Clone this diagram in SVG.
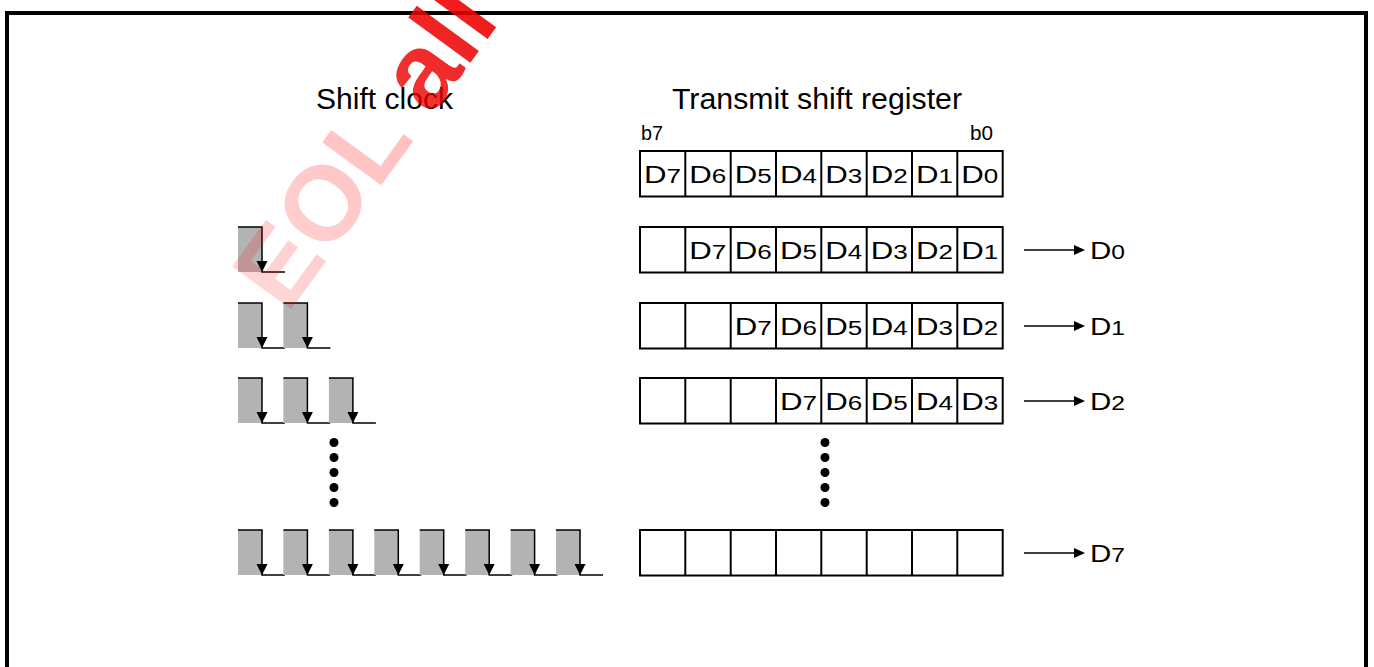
<svg xmlns="http://www.w3.org/2000/svg" width="1374" height="667" viewBox="0 0 1374 667">
<defs>
<style>
text{font-family:"Liberation Sans",Arial,sans-serif;fill:#000}
.title{font-size:29px}
.bit{font-size:21px}
.cell{font-size:24px}
.sub{font-size:20px}
.out{font-size:24px}
.frame{fill:none;stroke:#000;stroke-width:4}
.reg{fill:#fff;stroke:#000;stroke-width:2}
.div{stroke:#000;stroke-width:2}
.hi{fill:#b3b3b3}
.wave{fill:none;stroke:#000;stroke-width:1.5}
.ah{fill:#000}
.conn{stroke:#000;stroke-width:1.5}
.dot{fill:#000}
.wm{font-size:106px;font-weight:bold;fill:url(#wmg)}
</style>
<linearGradient id="wmg" x1="0" y1="0" x2="1" y2="0">
<stop offset="0" stop-color="#ff0000" stop-opacity="0.16"/>
<stop offset="0.6" stop-color="#ff0000" stop-opacity="0.25"/>
<stop offset="0.7" stop-color="#ee0000" stop-opacity="0.8"/>
<stop offset="1" stop-color="#ee0000" stop-opacity="0.9"/>
</linearGradient>
<g id="pulse">
<rect class="hi" x="0" y="0" width="24" height="45"/>
<path class="wave" d="M0 0H24V45H47"/>
<polygon class="ah" points="18.5,34 29.5,34 24,45"/>
</g>
<g id="regrow">
<rect class="reg" x="640" y="0" width="362.7" height="45.5"/>
<path class="div" d="M685.3 0V45.5M730.7 0V45.5M776 0V45.5M821.3 0V45.5M866.7 0V45.5M912 0V45.5M957.3 0V45.5"/>
</g>
</defs>

<rect class="frame" x="7" y="13" width="1359" height="700"/>

<g id="titles">
<text class="title" x="316" y="109" textLength="137" lengthAdjust="spacingAndGlyphs">Shift clock</text>
<text class="title" x="672" y="109" textLength="290" lengthAdjust="spacingAndGlyphs">Transmit shift register</text>
<text class="bit" x="641" y="140" textLength="22" lengthAdjust="spacingAndGlyphs">b7</text>
<text class="bit" x="970" y="140" textLength="23" lengthAdjust="spacingAndGlyphs">b0</text>
</g>

<g id="clock1"><use href="#pulse" x="238" y="227"/></g>
<g id="clock2"><use href="#pulse" x="238" y="303"/><use href="#pulse" x="283.4" y="303"/></g>
<g id="clock3"><use href="#pulse" x="238" y="378"/><use href="#pulse" x="283.4" y="378"/><use href="#pulse" x="328.9" y="378"/></g>
<g id="clock8">
<use href="#pulse" x="238" y="530"/><use href="#pulse" x="283.4" y="530"/><use href="#pulse" x="328.9" y="530"/><use href="#pulse" x="374.3" y="530"/>
<use href="#pulse" x="419.7" y="530"/><use href="#pulse" x="465.2" y="530"/><use href="#pulse" x="510.6" y="530"/><use href="#pulse" x="556" y="530"/>
</g>
<g id="clockdots">
<circle class="dot" cx="334" cy="442.5" r="4.5"/><circle class="dot" cx="334" cy="457.5" r="4.5"/><circle class="dot" cx="334" cy="472.5" r="4.5"/><circle class="dot" cx="334" cy="487.5" r="4.5"/><circle class="dot" cx="334" cy="502.5" r="4.5"/>
</g>

<g id="reg0">
<use href="#regrow" y="151"/>
<text class="cell" x="644" y="183" textLength="37" lengthAdjust="spacingAndGlyphs">D<tspan class="sub">7</tspan></text>
<text class="cell" x="689.3" y="183" textLength="37" lengthAdjust="spacingAndGlyphs">D<tspan class="sub">6</tspan></text>
<text class="cell" x="734.7" y="183" textLength="37" lengthAdjust="spacingAndGlyphs">D<tspan class="sub">5</tspan></text>
<text class="cell" x="780" y="183" textLength="37" lengthAdjust="spacingAndGlyphs">D<tspan class="sub">4</tspan></text>
<text class="cell" x="825.3" y="183" textLength="37" lengthAdjust="spacingAndGlyphs">D<tspan class="sub">3</tspan></text>
<text class="cell" x="870.7" y="183" textLength="37" lengthAdjust="spacingAndGlyphs">D<tspan class="sub">2</tspan></text>
<text class="cell" x="916" y="183" textLength="37" lengthAdjust="spacingAndGlyphs">D<tspan class="sub">1</tspan></text>
<text class="cell" x="961.3" y="183" textLength="37" lengthAdjust="spacingAndGlyphs">D<tspan class="sub">0</tspan></text>
</g>

<g id="reg1">
<use href="#regrow" y="227"/>
<text class="cell" x="689.3" y="259" textLength="37" lengthAdjust="spacingAndGlyphs">D<tspan class="sub">7</tspan></text>
<text class="cell" x="734.7" y="259" textLength="37" lengthAdjust="spacingAndGlyphs">D<tspan class="sub">6</tspan></text>
<text class="cell" x="780" y="259" textLength="37" lengthAdjust="spacingAndGlyphs">D<tspan class="sub">5</tspan></text>
<text class="cell" x="825.3" y="259" textLength="37" lengthAdjust="spacingAndGlyphs">D<tspan class="sub">4</tspan></text>
<text class="cell" x="870.7" y="259" textLength="37" lengthAdjust="spacingAndGlyphs">D<tspan class="sub">3</tspan></text>
<text class="cell" x="916" y="259" textLength="37" lengthAdjust="spacingAndGlyphs">D<tspan class="sub">2</tspan></text>
<text class="cell" x="961.3" y="259" textLength="37" lengthAdjust="spacingAndGlyphs">D<tspan class="sub">1</tspan></text>
</g>

<g id="reg2">
<use href="#regrow" y="303"/>
<text class="cell" x="734.7" y="335" textLength="37" lengthAdjust="spacingAndGlyphs">D<tspan class="sub">7</tspan></text>
<text class="cell" x="780" y="335" textLength="37" lengthAdjust="spacingAndGlyphs">D<tspan class="sub">6</tspan></text>
<text class="cell" x="825.3" y="335" textLength="37" lengthAdjust="spacingAndGlyphs">D<tspan class="sub">5</tspan></text>
<text class="cell" x="870.7" y="335" textLength="37" lengthAdjust="spacingAndGlyphs">D<tspan class="sub">4</tspan></text>
<text class="cell" x="916" y="335" textLength="37" lengthAdjust="spacingAndGlyphs">D<tspan class="sub">3</tspan></text>
<text class="cell" x="961.3" y="335" textLength="37" lengthAdjust="spacingAndGlyphs">D<tspan class="sub">2</tspan></text>
</g>

<g id="reg3">
<use href="#regrow" y="378"/>
<text class="cell" x="780" y="410" textLength="37" lengthAdjust="spacingAndGlyphs">D<tspan class="sub">7</tspan></text>
<text class="cell" x="825.3" y="410" textLength="37" lengthAdjust="spacingAndGlyphs">D<tspan class="sub">6</tspan></text>
<text class="cell" x="870.7" y="410" textLength="37" lengthAdjust="spacingAndGlyphs">D<tspan class="sub">5</tspan></text>
<text class="cell" x="916" y="410" textLength="37" lengthAdjust="spacingAndGlyphs">D<tspan class="sub">4</tspan></text>
<text class="cell" x="961.3" y="410" textLength="37" lengthAdjust="spacingAndGlyphs">D<tspan class="sub">3</tspan></text>
</g>

<g id="regdots">
<circle class="dot" cx="825" cy="442.5" r="4.5"/><circle class="dot" cx="825" cy="457.5" r="4.5"/><circle class="dot" cx="825" cy="472.5" r="4.5"/><circle class="dot" cx="825" cy="487.5" r="4.5"/><circle class="dot" cx="825" cy="502.5" r="4.5"/>
</g>

<g id="reg8">
<use href="#regrow" y="530"/>
</g>

<g id="outputs">
<text class="out" x="1090" y="259" textLength="35" lengthAdjust="spacingAndGlyphs">D<tspan class="sub">0</tspan></text>
<text class="out" x="1090" y="335" textLength="35" lengthAdjust="spacingAndGlyphs">D<tspan class="sub">1</tspan></text>
<text class="out" x="1090" y="410" textLength="35" lengthAdjust="spacingAndGlyphs">D<tspan class="sub">2</tspan></text>
<text class="out" x="1090" y="562" textLength="35" lengthAdjust="spacingAndGlyphs">D<tspan class="sub">7</tspan></text>
</g>

<g id="connectors">
<line class="conn" x1="1024" y1="250" x2="1076" y2="250"/><polygon class="ah" points="1074,245 1085,250 1074,255"/>
<line class="conn" x1="1024" y1="326" x2="1076" y2="326"/><polygon class="ah" points="1074,321 1085,326 1074,331"/>
<line class="conn" x1="1024" y1="401" x2="1076" y2="401"/><polygon class="ah" points="1074,396 1085,401 1074,406"/>
<line class="conn" x1="1024" y1="553" x2="1076" y2="553"/><polygon class="ah" points="1074,548 1085,553 1074,558"/>
</g>

<text class="wm" transform="translate(287 315) rotate(-54)">EOL all</text>
</svg>
